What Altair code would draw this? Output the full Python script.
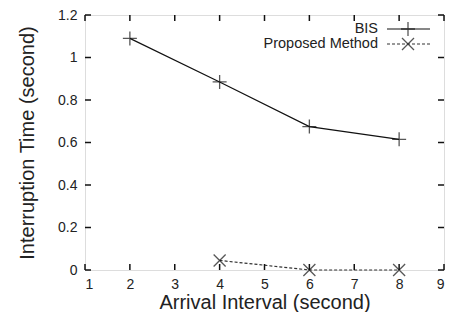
import altair as alt
import pandas as pd

# data
bis_x = [2, 4, 6, 8]
bis_y = [1.09, 0.885, 0.675, 0.615]
prop_x = [4, 6, 8]
prop_y = [0.045, 0.0, 0.0]
x_ticks = [1, 2, 3, 4, 5, 6, 7, 8, 9]
y_ticks = [0, 0.2, 0.4, 0.6, 0.8, 1.0, 1.2]
legend_labels = ["BIS", "Proposed Method"]

W, H = 359, 255
FONT = "Liberation Sans"

PLUS = "M-1,0L1,0M0,-1L0,1"
CROSS = "M-1,-1L1,1M-1,1L1,-1"

bis = pd.DataFrame({"x": bis_x, "y": bis_y})
prop = pd.DataFrame({"x": prop_x, "y": prop_y})

xs = alt.Scale(domain=[1, 9], nice=False, zero=False)
ys = alt.Scale(domain=[0, 1.2], nice=False)

xaxis = alt.Axis(values=x_ticks, title="Arrival Interval (second)", format="~g",
                 labelFontSize=14, titleFontSize=20, labelPadding=7,
                 titleY=38, titleBaseline="alphabetic",
                 domain=False, ticks=False, grid=False, labelFont=FONT, titleFont=FONT,
                 labelColor="#222", titleColor="#222", titleFontWeight="normal")
yaxis = alt.Axis(values=y_ticks, title="Interruption Time (second)", format="~g",
                 labelFontSize=14, titleFontSize=20, labelPadding=8, titlePadding=20,
                 domain=False, ticks=False, grid=False, labelFont=FONT, titleFont=FONT,
                 labelColor="#222", titleColor="#222", titleFontWeight="normal")

X = alt.X("x:Q", scale=xs, axis=xaxis)
Y = alt.Y("y:Q", scale=ys, axis=yaxis)

bis_line = alt.Chart(bis).mark_line(color="#111", strokeWidth=1.2).encode(x=X, y=Y)
bis_pts = alt.Chart(bis).mark_point(shape=PLUS, size=196, color="#111", strokeWidth=1.3).encode(x=X, y=Y)
prop_line = alt.Chart(prop).mark_line(color="#333", strokeWidth=1.2, strokeDash=[3, 2]).encode(x=X, y=Y)
prop_pts = alt.Chart(prop).mark_point(shape=CROSS, size=144, color="#111", strokeWidth=1.3).encode(x=X, y=Y)

# inward ticks (mirror on all four sides)
xt = pd.DataFrame({"x": x_ticks})
yt = pd.DataFrame({"y": y_ticks})
tick_bottom = alt.Chart(xt).mark_rule(color="#111", strokeWidth=1.5).encode(
    x=X, y=alt.value(H), y2=alt.value(H - 6))
tick_top = alt.Chart(xt).mark_rule(color="#111", strokeWidth=1.5).encode(
    x=X, y=alt.value(0), y2=alt.value(6))
tick_left = alt.Chart(yt).mark_rule(color="#111", strokeWidth=1.5).encode(
    y=Y, x=alt.value(0), x2=alt.value(6))
tick_right = alt.Chart(yt).mark_rule(color="#111", strokeWidth=1.5).encode(
    y=Y, x=alt.value(W), x2=alt.value(W - 6))

# legend
leg1 = pd.DataFrame({"label": [legend_labels[0]]})
leg2 = pd.DataFrame({"label": [legend_labels[1]]})
leg1_text = alt.Chart(leg1).mark_text(align="right", baseline="middle", fontSize=14.5, font=FONT, color="#222").encode(
    text="label:N", x=alt.value(293), y=alt.value(14))
leg2_text = alt.Chart(leg2).mark_text(align="right", baseline="middle", fontSize=14.5, font=FONT, color="#222").encode(
    text="label:N", x=alt.value(293), y=alt.value(29))
leg1_line = alt.Chart(leg1).mark_rule(color="#111", strokeWidth=1.2).encode(
    x=alt.value(302), x2=alt.value(345), y=alt.value(14))
leg2_line = alt.Chart(leg2).mark_rule(color="#333", strokeWidth=1.2, strokeDash=[3, 2]).encode(
    x=alt.value(302), x2=alt.value(345), y=alt.value(29))
leg1_pt = alt.Chart(leg1).mark_point(shape=PLUS, size=196, color="#111", strokeWidth=1.3).encode(
    x=alt.value(323), y=alt.value(14))
leg2_pt = alt.Chart(leg2).mark_point(shape=CROSS, size=144, color="#111", strokeWidth=1.3).encode(
    x=alt.value(323), y=alt.value(29))

chart = alt.layer(
    bis_line, bis_pts, prop_line, prop_pts,
    tick_bottom, tick_top, tick_left, tick_right,
    leg1_text, leg2_text, leg1_line, leg2_line, leg1_pt, leg2_pt,
).properties(
    width=W, height=H,
    autosize=alt.AutoSizeParams(type="none"),
    padding={"left": 77, "top": 7, "right": 1, "bottom": 42},
).configure_view(stroke="#111", strokeWidth=1.5).configure(background="white")

chart.save("out.html", embed_options={"renderer": "svg", "actions": False})
